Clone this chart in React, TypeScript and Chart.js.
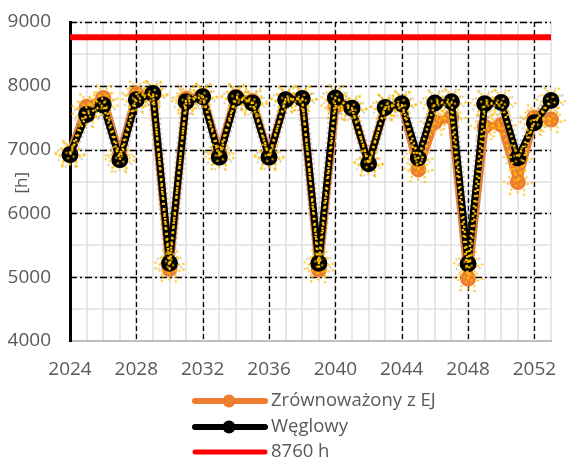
import { useEffect, useRef } from 'react';
import { Chart, registerables } from 'chart.js';
Chart.register(...registerables);

const years = [2024, 2025, 2026, 2027, 2028, 2029, 2030, 2031, 2032, 2033, 2034, 2035, 2036, 2037, 2038, 2039, 2040, 2041, 2042, 2043, 2044, 2045, 2046, 2047, 2048, 2049, 2050, 2051, 2052, 2053];
const zrownowazony = [6940, 7670, 7810, 6900, 7870, 7860, 5130, 7800, 7840, 6950, 7830, 7760, 6900, 7790, 7800, 5120, 7680, 7650, 6790, 7660, 7710, 6690, 7430, 7510, 4980, 7360, 7390, 6490, 7500, 7470];
const weglowy = [6920, 7550, 7700, 6840, 7780, 7880, 5220, 7750, 7830, 6880, 7810, 7730, 6880, 7780, 7800, 5220, 7810, 7650, 6780, 7660, 7720, 6870, 7730, 7750, 5210, 7720, 7740, 6870, 7420, 7770];
const limitYears = [2024, 2053];
const limitValues = [8760, 8760];
const xMajorTicks = [2024, 2028, 2032, 2036, 2040, 2044, 2048, 2052];
const yMajorTicks = [4000, 5000, 6000, 7000, 8000, 9000];
const legendLabels = ['Zrównoważony z EJ', 'Węglowy', '8760 h'];
const yTitle = '[h]';

const ORANGE = '#ED7D31';
const BLACK = '#000000';
const RED = '#FF0000';
const YELLOW = '#FFC000';
const TEXT = '#595959';
const FONT = "'Open Sans', sans-serif";

function makeRing(color: string, rings: { r: number; n: number; off: number }[], dot: number) {
  const maxR = Math.max(...rings.map((q) => q.r)) + dot + 2;
  const c = document.createElement('canvas');
  c.width = Math.ceil(maxR * 2);
  c.height = Math.ceil(maxR * 2);
  const ctx = c.getContext('2d')!;
  ctx.fillStyle = color;
  const cx = c.width / 2;
  const cy = c.height / 2;
  rings.forEach((q) => {
    for (let i = 0; i < q.n; i++) {
      const a = (i / q.n) * Math.PI * 2 + q.off;
      ctx.beginPath();
      ctx.arc(cx + Math.cos(a) * q.r, cy + Math.sin(a) * q.r, dot, 0, Math.PI * 2);
      ctx.fill();
    }
  });
  return c;
}

export default function App() {
  const ref = useRef<HTMLCanvasElement>(null);
  useEffect(() => {
    document.body.style.margin = '0';
    const yellowRing = makeRing('rgba(255,192,0,0.85)', [{ r: 10, n: 9, off: 0.2 }, { r: 4, n: 4, off: 0.5 }, { r: 14, n: 6, off: 1.1 }], 1.2);
    const grayRing = makeRing('rgba(150,150,150,0.6)', [{ r: 12.5, n: 8, off: 0.35 }], 1.1);
    const pts = (vals: number[]) => years.map((y, i) => ({ x: y, y: vals[i] }));

    const majorGrid = {
      id: 'majorGrid',
      beforeDatasetsDraw(chart: any) {
        const { ctx, chartArea, scales } = chart;
        ctx.save();
        ctx.strokeStyle = '#000';
        ctx.lineWidth = 1.3;
        ctx.setLineDash([5, 3]);
        xMajorTicks.forEach((v) => {
          if (v === years[0]) return;
          const x = Math.round(scales.x.getPixelForValue(v)) + 0.5;
          ctx.beginPath();
          ctx.moveTo(x, chartArea.top);
          ctx.lineTo(x, chartArea.bottom);
          ctx.stroke();
        });
        ctx.setLineDash([7, 3, 2, 3]);
        yMajorTicks.forEach((v) => {
          if (v === yMajorTicks[0]) return;
          const y = Math.round(scales.y.getPixelForValue(v)) + 0.5;
          ctx.beginPath();
          ctx.moveTo(chartArea.left, y);
          ctx.lineTo(chartArea.right, y);
          ctx.stroke();
        });
        ctx.restore();
      },
    };

    const extras = {
      id: 'extras',
      afterDraw(chart: any) {
        const { ctx, scales } = chart;
        ctx.save();
        ctx.translate(22, scales.y.getPixelForValue(6480));
        ctx.rotate(-Math.PI / 2);
        ctx.fillStyle = TEXT;
        ctx.font = `17px ${FONT}`;
        ctx.textAlign = 'center';
        ctx.textBaseline = 'middle';
        ctx.fillText(yTitle, 0, 0);
        ctx.restore();
        const colors = [ORANGE, BLACK, RED];
        const rows = [401, 427, 452];
        ctx.save();
        legendLabels.forEach((lab, i) => {
          const y = rows[i];
          ctx.strokeStyle = colors[i];
          ctx.lineWidth = i === 2 ? 5 : 6;
          ctx.lineCap = 'round';
          ctx.beginPath();
          ctx.moveTo(195, y);
          ctx.lineTo(265, y);
          ctx.stroke();
          if (i < 2) {
            ctx.fillStyle = colors[i];
            ctx.beginPath();
            ctx.arc(229, y, 6.5, 0, Math.PI * 2);
            ctx.fill();
            if (i === 0) {
              ctx.fillStyle = '#C9A21A';
              ctx.beginPath();
              ctx.arc(229, y, 1, 0, Math.PI * 2);
              ctx.fill();
            }
          }
          ctx.fillStyle = TEXT;
          ctx.font = `18.5px ${FONT}`;
          ctx.textAlign = 'left';
          ctx.textBaseline = 'middle';
          ctx.fillText(lab, 271, y);
        });
        ctx.restore();
      },
    };

    const common = { clip: false, borderJoinStyle: 'round', borderCapStyle: 'round' };

    const chart = new Chart(ref.current!, {
      type: 'line',
      data: {
        datasets: [
          {
            ...common,
            label: legendLabels[2],
            data: limitYears.map((y, i) => ({ x: y, y: limitValues[i] })),
            borderColor: RED,
            borderWidth: 6,
            borderCapStyle: 'butt',
            pointRadius: 0,
            order: 10,
          },
          {
            ...common,
            label: legendLabels[0],
            data: pts(zrownowazony),
            borderColor: ORANGE,
            backgroundColor: ORANGE,
            borderWidth: 8,
            pointRadius: 8,
            pointBorderWidth: 0,
            order: 6,
          },
          {
            ...common,
            label: 'ring-z',
            data: pts(zrownowazony),
            borderColor: 'rgba(0,0,0,0)',
            borderWidth: 0,
            pointStyle: yellowRing as any,
            order: 5.5,
          },
          {
            ...common,
            label: 'gray-w',
            data: pts(weglowy),
            borderColor: 'rgba(140,140,140,0.45)',
            borderWidth: 11,
            borderDash: [2, 3],
            borderCapStyle: 'butt',
            pointStyle: grayRing as any,
            order: 5,
          },
          {
            ...common,
            label: legendLabels[1],
            data: pts(weglowy),
            borderColor: BLACK,
            backgroundColor: BLACK,
            borderWidth: 7,
            pointRadius: 8.5,
            pointBorderWidth: 0,
            order: 4,
          },
          {
            ...common,
            label: 'dots-z',
            data: pts(zrownowazony),
            borderColor: YELLOW,
            borderWidth: 2.5,
            borderDash: [2, 4],
            borderCapStyle: 'butt',
            pointRadius: 0,
            order: 3,
          },
          {
            ...common,
            label: 'dots-w',
            data: pts(weglowy),
            borderColor: YELLOW,
            borderWidth: 2.5,
            borderDash: [2, 3],
            borderCapStyle: 'butt',
            pointStyle: yellowRing as any,
            order: 2,
          },
        ],
      },
      options: {
        animation: false,
        responsive: false,
        maintainAspectRatio: false,
        layout: { padding: { left: 0, right: 0, top: 22, bottom: 0 } },
        plugins: { legend: { display: false }, tooltip: { enabled: false } },
        scales: {
          x: {
            type: 'linear',
            min: years[0],
            max: years[years.length - 1],
            afterFit: (s: any) => {
              s.height = 118;
              s.paddingLeft = 0;
              s.paddingRight = 0;
            },
            grid: { color: 'rgba(225,225,225,0.8)', lineWidth: 2, drawTicks: false },
            border: { color: '#BFBFBF', width: 2 },
            ticks: {
              stepSize: 1,
              autoSkip: false,
              maxRotation: 0,
              padding: 17,
              color: TEXT,
              font: { family: FONT, size: 19 },
              callback: (v: any) => (xMajorTicks.includes(Number(v)) ? String(v) : ''),
            },
          },
          y: {
            min: 4000,
            max: 9000,
            afterFit: (s: any) => {
              s.width = 70;
              s.paddingTop = 0;
              s.paddingBottom = 0;
            },
            grid: { color: 'rgba(225,225,225,0.8)', lineWidth: 2, drawTicks: false },
            border: { color: '#000', width: 3 },
            ticks: {
              stepSize: 500,
              autoSkip: false,
              padding: 19,
              color: TEXT,
              font: { family: FONT, size: 19 },
              callback: (v: any) => (yMajorTicks.includes(Number(v)) ? String(v) : ''),
            },
          },
        },
      },
      plugins: [majorGrid, extras],
    } as any);
    return () => chart.destroy();
  }, []);
  return (
    <div style={{ position: 'relative', width: 566, height: 459 }}>
      <canvas ref={ref} width={566} height={459} style={{ display: 'block', width: 566, height: 459 }} />
    </div>
  );
}
